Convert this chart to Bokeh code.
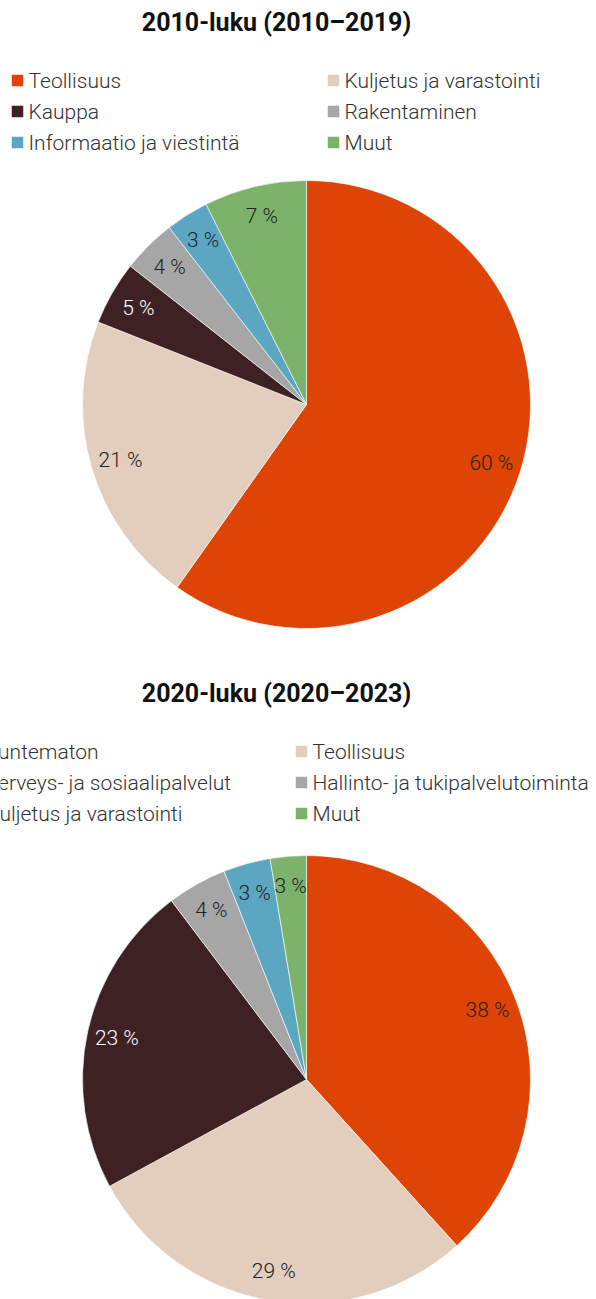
import numpy as np
from bokeh.plotting import figure
from bokeh.models import Range1d, ColumnDataSource
from bokeh.core.properties import value
from bokeh.embed import file_html
from bokeh.resources import INLINE

# ---------------- data ----------------
titles = ["2010-luku (2010–2019)", "2020-luku (2020–2023)"]

cats_2010 = ["Teollisuus", "Kuljetus ja varastointi", "Kauppa",
             "Rakentaminen", "Informaatio ja viestintä", "Muut"]
vals_2010 = [59.8, 21.2, 4.6, 3.9, 3.1, 7.4]

cats_2020 = ["Tuntematon", "Teollisuus", "Terveys- ja sosiaalipalvelut",
             "Hallinto- ja tukipalvelutoiminta", "Kuljetus ja varastointi", "Muut"]
vals_2020 = [38.3, 28.8, 22.6, 4.3, 3.4, 2.6]

colors = ["#DD4405", "#E3CDBD", "#3E2123", "#A6A6A6", "#5BA7C2", "#7DB26B"]
label_colors = ["#222222", "#222222", "#FFFFFF", "#222222", "#222222", "#222222"]

# ---------------- layout ----------------
W, H = 596, 1299
LIGHT = "Roboto Light"

p = figure(width=W, height=H, x_range=Range1d(0, W), y_range=Range1d(0, H),
           output_backend="svg", toolbar_location=None, min_border=0,
           x_axis_location=None, y_axis_location=None)
p.grid.visible = False
p.outline_line_color = None
p.background_fill_color = "white"
p.border_fill_color = "white"

panels = [
    dict(title=titles[0], cats=cats_2010, vals=vals_2010, dy=0, dyp=0,
         col_x=[28, 344]),
    dict(title=titles[1], cats=cats_2020, vals=vals_2020, dy=671, dyp=675,
         col_x=[-14, 312]),
]

R = 224
RL = 194
CX = 306

for pn in panels:
    vals = np.array(pn["vals"], dtype=float)
    frac = vals / vals.sum()
    cum = np.concatenate([[0], np.cumsum(frac)])
    start = np.pi / 2 - 2 * np.pi * cum[:-1]
    end = np.pi / 2 - 2 * np.pi * cum[1:]
    cy = H - (404 + pn["dyp"])

    src = ColumnDataSource(dict(start=start, end=end, color=colors))
    p.wedge(x=CX, y=cy, radius=R, start_angle="start", end_angle="end",
            direction="clock", fill_color="color", line_color="white",
            line_width=0.6, source=src)

    mid = np.pi / 2 - 2 * np.pi * (cum[:-1] + frac / 2)
    lab = ColumnDataSource(dict(
        x=CX + RL * np.cos(mid), y=cy + RL * np.sin(mid),
        t=[f"{round(v)} %" for v in vals], c=label_colors))
    p.text(x="x", y="y", text="t", text_color="c", source=lab,
           text_font=value(LIGHT), text_font_size="21px",
           text_align="center", text_baseline="middle")

    # title
    p.text(x=[276], y=[H - (22 + pn["dy"])], text=[pn["title"]],
           text_font=value("Roboto"), text_font_style="bold",
           text_font_size="25px", text_color="#111111",
           text_align="center", text_baseline="middle")

    # legend (2 columns, row-wise)
    n = len(pn["cats"])
    lx, ly, mx, my = [], [], [], []
    for i in range(n):
        row, col = divmod(i, 2)
        yc = 80 + pn["dy"] + 31 * row
        tx = pn["col_x"][col]
        lx.append(tx)
        ly.append(H - yc)
        mx.append(tx - 11)
        my.append(H - yc)
    p.rect(x=mx, y=my, width=11.5, height=11.5, fill_color=colors,
           line_color=None)
    p.text(x=lx, y=ly, text=pn["cats"], text_font=value(LIGHT),
           text_font_size="21px", text_color="#333333",
           text_align="left", text_baseline="middle")

open("out.html", "w").write(file_html(p, INLINE))
